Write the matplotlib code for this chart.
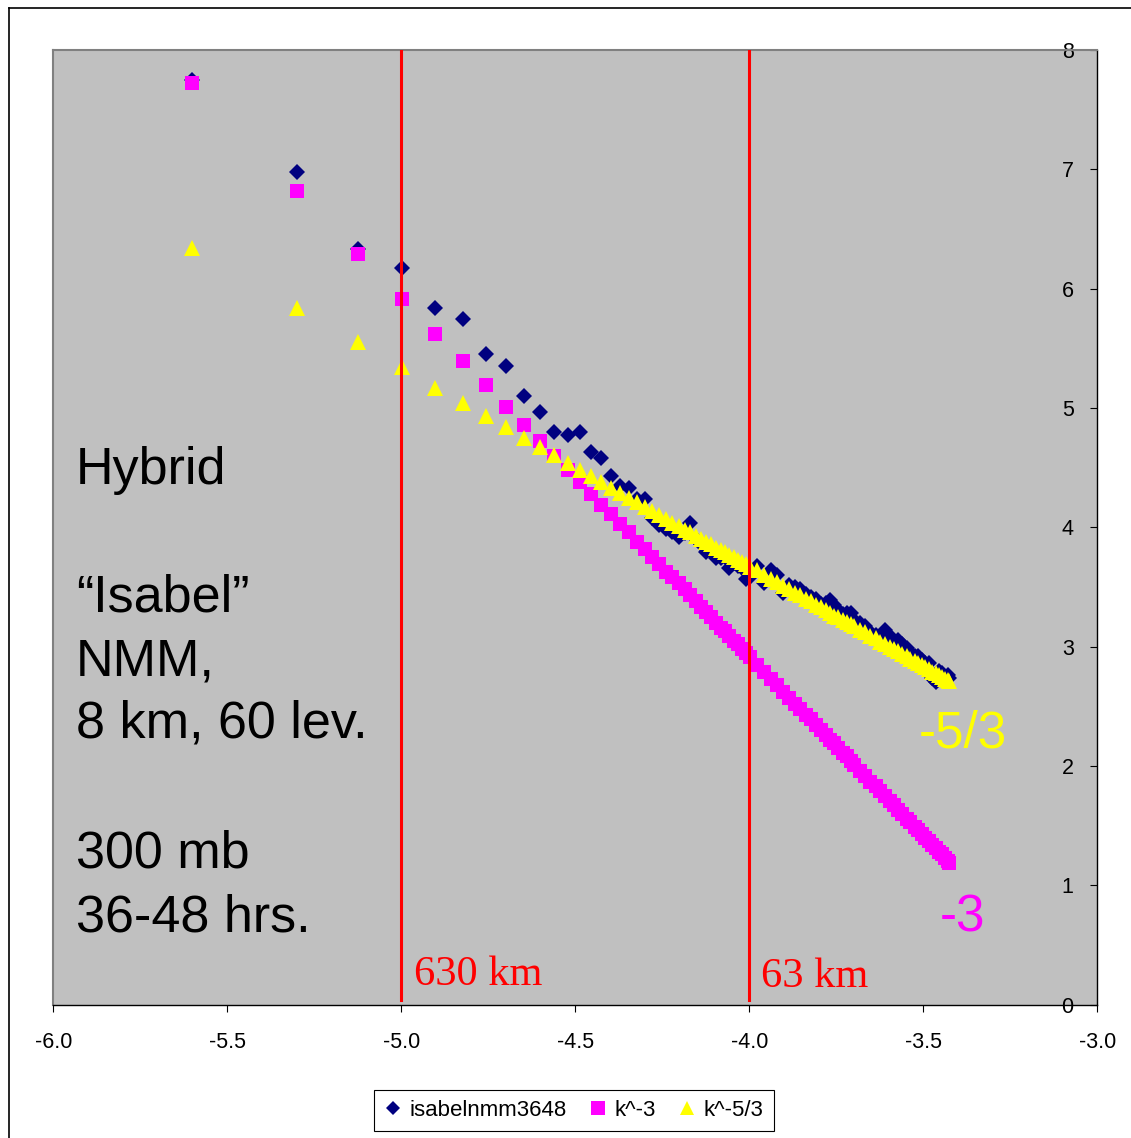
import matplotlib
matplotlib.use("Agg")
import matplotlib.pyplot as plt
from matplotlib.lines import Line2D

plt.rcParams['font.family'] = ['Liberation Sans', 'DejaVu Sans']

# log10 of wavenumber (x axis)
log_k = [-5.601, -5.300, -5.124, -4.999, -4.902, -4.823, -4.756, -4.698, -4.647, -4.601,
         -4.560, -4.522, -4.487, -4.455, -4.425, -4.397, -4.371, -4.346, -4.322, -4.300,
         -4.279, -4.259, -4.239, -4.221, -4.203, -4.186, -4.170, -4.154, -4.139, -4.124,
         -4.110, -4.096, -4.082, -4.070, -4.057, -4.045, -4.033, -4.021, -4.010, -3.999,
         -3.978, -3.958, -3.938, -3.920, -3.902, -3.885, -3.869, -3.853, -3.838, -3.823,
         -3.809, -3.795, -3.781, -3.768, -3.756, -3.744, -3.732, -3.720, -3.709, -3.698,
         -3.682, -3.667, -3.652, -3.637, -3.623, -3.610, -3.597, -3.584, -3.572, -3.560,
         -3.548, -3.537, -3.525, -3.515, -3.504, -3.494, -3.484, -3.474, -3.464, -3.455,
         -3.446, -3.437, -3.428, -3.425]

isabel = [7.75, 6.98, 6.33, 6.17, 5.84, 5.75, 5.45, 5.35, 5.10, 4.97,
          4.80, 4.77, 4.80, 4.63, 4.58, 4.43, 4.35, 4.33, 4.24, 4.24,
          4.08, 4.02, 3.99, 3.96, 3.92, 3.95, 4.04, 3.90, 3.86, 3.79,
          3.80, 3.74, 3.74, 3.75, 3.66, 3.70, 3.68, 3.66, 3.57, 3.58,
          3.68, 3.53, 3.64, 3.60, 3.45, 3.52, 3.50, 3.48, 3.44, 3.42,
          3.40, 3.36, 3.37, 3.39, 3.35, 3.31, 3.27, 3.28, 3.28, 3.22,
          3.20, 3.17, 3.12, 3.10, 3.09, 3.14, 3.09, 3.05, 3.06, 3.02,
          2.99, 2.95, 2.92, 2.92, 2.89, 2.86, 2.86, 2.74, 2.70, 2.80,
          2.78, 2.75, 2.76, 2.74]

k_m3 = [7.72, 6.82, 6.29, 5.91, 5.62, 5.39, 5.19, 5.01, 4.86, 4.72,
        4.60, 4.48, 4.38, 4.28, 4.19, 4.11, 4.03, 3.96, 3.88, 3.82,
        3.75, 3.69, 3.63, 3.58, 3.53, 3.48, 3.43, 3.38, 3.33, 3.29,
        3.25, 3.20, 3.16, 3.13, 3.09, 3.05, 3.02, 2.98, 2.95, 2.91,
        2.85, 2.79, 2.73, 2.68, 2.62, 2.57, 2.52, 2.48, 2.43, 2.39,
        2.34, 2.30, 2.26, 2.22, 2.19, 2.15, 2.11, 2.08, 2.04, 2.01,
        1.96, 1.92, 1.87, 1.83, 1.79, 1.75, 1.71, 1.67, 1.63, 1.60,
        1.56, 1.53, 1.49, 1.46, 1.43, 1.40, 1.37, 1.34, 1.31, 1.28,
        1.26, 1.23, 1.20, 1.19]

k_m53 = [6.34, 5.84, 5.55, 5.34, 5.17, 5.04, 4.93, 4.84, 4.75, 4.67,
         4.61, 4.54, 4.48, 4.43, 4.38, 4.33, 4.29, 4.25, 4.21, 4.17,
         4.14, 4.10, 4.07, 4.04, 4.01, 3.98, 3.96, 3.93, 3.90, 3.88,
         3.86, 3.83, 3.81, 3.79, 3.77, 3.75, 3.73, 3.71, 3.69, 3.67,
         3.64, 3.60, 3.57, 3.54, 3.51, 3.48, 3.45, 3.43, 3.40, 3.38,
         3.35, 3.33, 3.31, 3.28, 3.26, 3.25, 3.22, 3.21, 3.19, 3.17,
         3.14, 3.12, 3.09, 3.07, 3.04, 3.02, 3.00, 2.98, 2.96, 2.94,
         2.92, 2.90, 2.88, 2.86, 2.85, 2.83, 2.81, 2.79, 2.78, 2.76,
         2.75, 2.73, 2.72, 2.71]

scale_lines = [-5.0, -4.0]
scale_labels = ["630 km", "63 km"]
xticks = [-6.0, -5.5, -5.0, -4.5, -4.0, -3.5, -3.0]
yticks = [0, 1, 2, 3, 4, 5, 6, 7, 8]

W, H = 1131, 1138


def px(x, y):
    # pixel position -> figure fraction
    return x / W, 1 - y / H


fig = plt.figure(figsize=(W / 100, H / 100), dpi=100)
ax = fig.add_axes([53.3 / W, 1 - 1004.7 / H, 1044 / W, 954.7 / H])
ax.set_facecolor('#c0c0c0')

ax.plot(log_k, isabel, linestyle='none', marker='D', ms=7.8, mew=0,
        color='#000080', label='isabelnmm3648', zorder=3)
ax.plot(log_k, k_m3, linestyle='none', marker='s', ms=10.5, mew=0,
        color='#ff00ff', label='k^-3', zorder=4)
ax.plot(log_k, k_m53, linestyle='none', marker='^', ms=11, mew=0,
        color='#ffff00', label='k^-5/3', zorder=5)

for xv in scale_lines:
    ax.axvline(xv, ymin=0.005, ymax=1, color='#ff0000', lw=2.2, zorder=6)

ax.set_xlim(-6, -3)
ax.set_ylim(0, 8)
ax.set_xticks(xticks)
ax.set_xticklabels([f"{v:.1f}" for v in xticks])
ax.set_yticks(yticks)
ax.set_yticklabels([str(v) for v in yticks])

ax.tick_params(axis='x', direction='out', length=5, width=0.8, labelsize=15.5, pad=15, colors='black')
ax.tick_params(axis='y', direction='in', length=5, width=0.8, labelsize=15.5,
               left=False, labelleft=False, right=True, labelright=True, pad=-17)
for lbl in ax.get_yticklabels():
    lbl.set_horizontalalignment('right')

for side in ['top', 'left']:
    ax.spines[side].set_color('#808080')
    ax.spines[side].set_linewidth(1.5)
for side in ['right', 'bottom']:
    ax.spines[side].set_color('black')
    ax.spines[side].set_linewidth(1.0)

# text block on the left
left_lines = [("Hybrid", 484), ("\u201cIsabel\u201d", 612), ("NMM,", 676),
              ("8 km, 60 lev.", 738), ("300 mb", 867), ("36-48 hrs.", 932)]
for s, yb in left_lines:
    fig.text(*px(76, yb), s, fontsize=37.5, color='black', va='baseline', ha='left')

fig.text(*px(919, 748), "-5/3", fontsize=37, color='#ffff00', va='baseline', ha='left')
fig.text(*px(940, 932), "-3", fontsize=37, color='#ff00ff', va='baseline', ha='left')

fig.text(*px(414, 985), scale_labels[0], fontsize=30.5, color='#ff0000',
         family=['Liberation Serif', 'DejaVu Serif'], va='baseline', ha='left')
fig.text(*px(761, 987), scale_labels[1], fontsize=30.5, color='#ff0000',
         family=['Liberation Serif', 'DejaVu Serif'], va='baseline', ha='left')

# outer chart border (clipped at right and bottom)
fig.add_artist(Line2D([8.5 / W, 8.5 / W], [0, 1 - 7.5 / H], color='black', lw=1.2))
fig.add_artist(Line2D([8.5 / W, 1], [1 - 7.5 / H, 1 - 7.5 / H], color='black', lw=1.2))

leg = fig.legend(loc='center', bbox_to_anchor=(574 / W, 1 - 1110.5 / H), ncol=3,
                 fontsize=16, frameon=True, fancybox=False, edgecolor='black',
                 framealpha=1, handlelength=0.8, handletextpad=0.35,
                 columnspacing=1.0, borderpad=0.45, markerscale=0.9)
leg.get_frame().set_linewidth(0.8)

fig.savefig("out.png", dpi=100)
